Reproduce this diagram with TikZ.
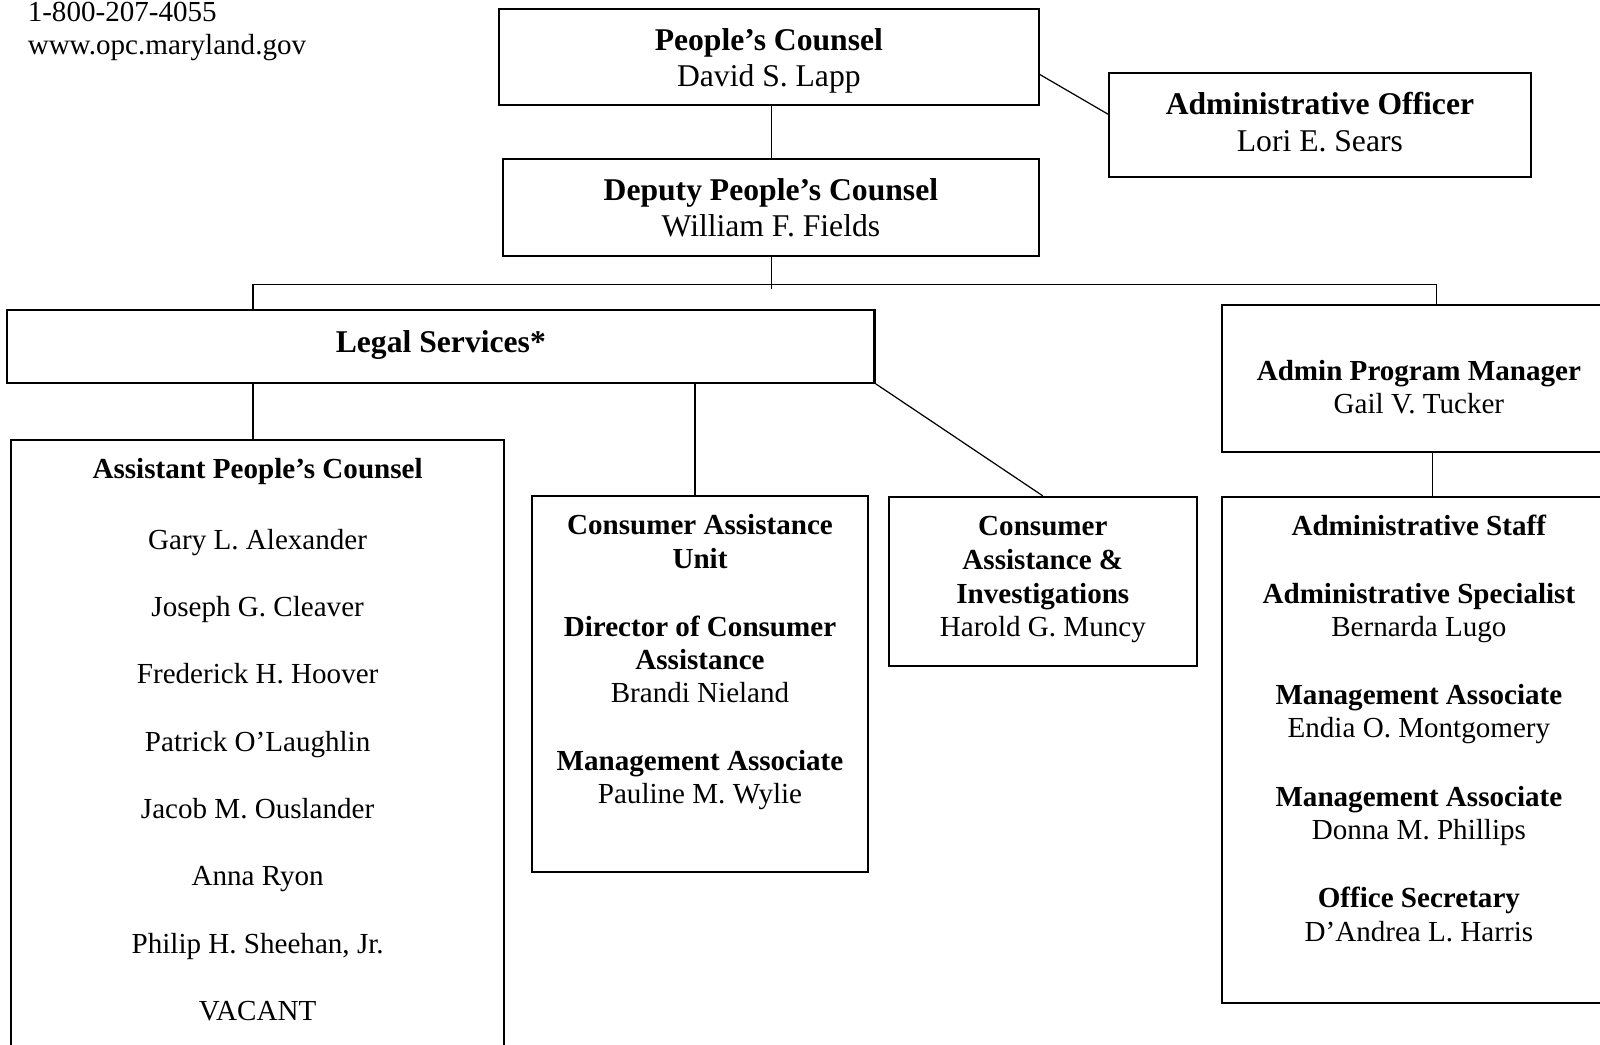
\documentclass[tikz,border=0pt]{standalone}
\usepackage{fontspec}
\setmainfont{Liberation Serif}
\newcommand{\tp}{\rule{0pt}{25pt}}
\begin{document}
\begin{tikzpicture}[x=1pt,y=-1pt,
  box/.style={draw, line width=2pt, inner sep=0pt},
  conn/.style={line width=1.2pt},
  big/.style={font=\fontsize{31}{36}\selectfont},
  small/.style={font=\fontsize{28.5}{32.5}\selectfont},
  txt/.style={align=center, inner sep=0pt, anchor=north},
]
\useasboundingbox (0,0) rectangle (1568,1024);
\clip (0,0) rectangle (1568,1024);

% boxes
\node[box, minimum width=529pt, minimum height=94pt] (pc) at (753.5,56) {};
\node[box, minimum width=413pt, minimum height=101pt] (ao) at (1293.5,122.5) {};
\node[box, minimum width=525pt, minimum height=95pt] (dep) at (755.5,203.5) {};
\node[box, minimum width=850pt, minimum height=71pt] (ls) at (432,339.5) {};
\node[box, minimum width=385pt, minimum height=144pt] (apm) at (1390.5,371) {};
\node[box, minimum width=385pt, minimum height=496pt] (ast) at (1390.5,735) {};
\node[box, minimum width=483pt, minimum height=629pt] (apc) at (252.5,745.5) {};
\node[box, minimum width=330pt, minimum height=369pt] (cau) at (686,670.5) {};
\node[box, minimum width=302pt, minimum height=166pt] (cai) at (1022,570) {};

% texts
\node[small, anchor=north west, inner sep=0pt, align=left] (phone) at (27,-4.5)
  {\tp 1-800-207-4055\\www.opc.maryland.gov};
\node[big, txt] (pc-t) at (753.5,24) {\tp\textbf{People’s Counsel}\\David S. Lapp};
\node[big, txt] (ao-t) at (1293.5,87) {\tp\textbf{Administrative Officer}\\Lori E. Sears};
\node[big, txt] (dep-t) at (755.5,171) {\tp\textbf{Deputy People’s Counsel}\\William F. Fields};
\node[big, txt] (ls-t) at (432,320) {\tp\textbf{Legal Services*}};
\node[small, txt] (apm-t) at (1390.5,348) {\tp\textbf{Admin Program Manager}\\Gail V. Tucker};
\node[small, txt] (apc-t) at (252.5,444) {\tp\textbf{Assistant People’s Counsel}\\[36.5pt]
  Gary L. Alexander\\[33.5pt] Joseph G. Cleaver\\[33.5pt] Frederick H. Hoover\\[33.5pt]
  Patrick O’Laughlin\\[33.5pt] Jacob M. Ouslander\\[33.5pt] Anna Ryon\\[33.5pt]
  Philip H. Sheehan, Jr.\\[33.5pt] VACANT};
\node[small, txt] (cau-t) at (686,499) {\tp\textbf{Consumer Assistance}\\\textbf{Unit}\\[34.5pt]
  \textbf{Director of Consumer}\\\textbf{Assistance}\\Brandi Nieland\\[33.5pt]
  \textbf{Management Associate}\\Pauline M. Wylie};
\node[small, txt] (cai-t) at (1022,500) {\tp\textbf{Consumer}\\[0.5pt]\textbf{Assistance \&}\\[0.5pt]
  \textbf{Investigations}\\[0.5pt]Harold G. Muncy};
\node[small, txt] (ast-t) at (1390.5,500) {\tp\textbf{Administrative Staff}\\[33.5pt]
  \textbf{Administrative Specialist}\\Bernarda Lugo\\[34.5pt]
  \textbf{Management Associate}\\Endia O. Montgomery\\[34.5pt]
  \textbf{Management Associate}\\Donna M. Phillips\\[34.5pt]
  \textbf{Office Secretary}\\D’Andrea L. Harris};

% connectors
\coordinate (j0) at (756,279);
\coordinate (j0e) at (756,283);
\coordinate (bl) at (248,279);
\coordinate (br) at (1408,279);
\draw[conn] (pc.south -| j0) -- (dep.north -| j0);
\draw[conn] (pc.east |- 0,73) -- (ao.west |- 0,112);
\draw[conn] (dep.south -| j0) -- (j0e);
\draw[conn] (ls.north -| bl) -- (bl) -- (br) -- (apm.north -| br);
\draw[conn] (ls.south -| 248,0) -- (apc.north -| 248,0);
\draw[conn] (ls.south -| 681,0) -- (cau.north -| 681,0);
\draw[conn] (ls.south east) -- (cai.north);
\draw[conn] (apm.south -| 1404,0) -- (ast.north -| 1404,0);
\end{tikzpicture}
\end{document}
